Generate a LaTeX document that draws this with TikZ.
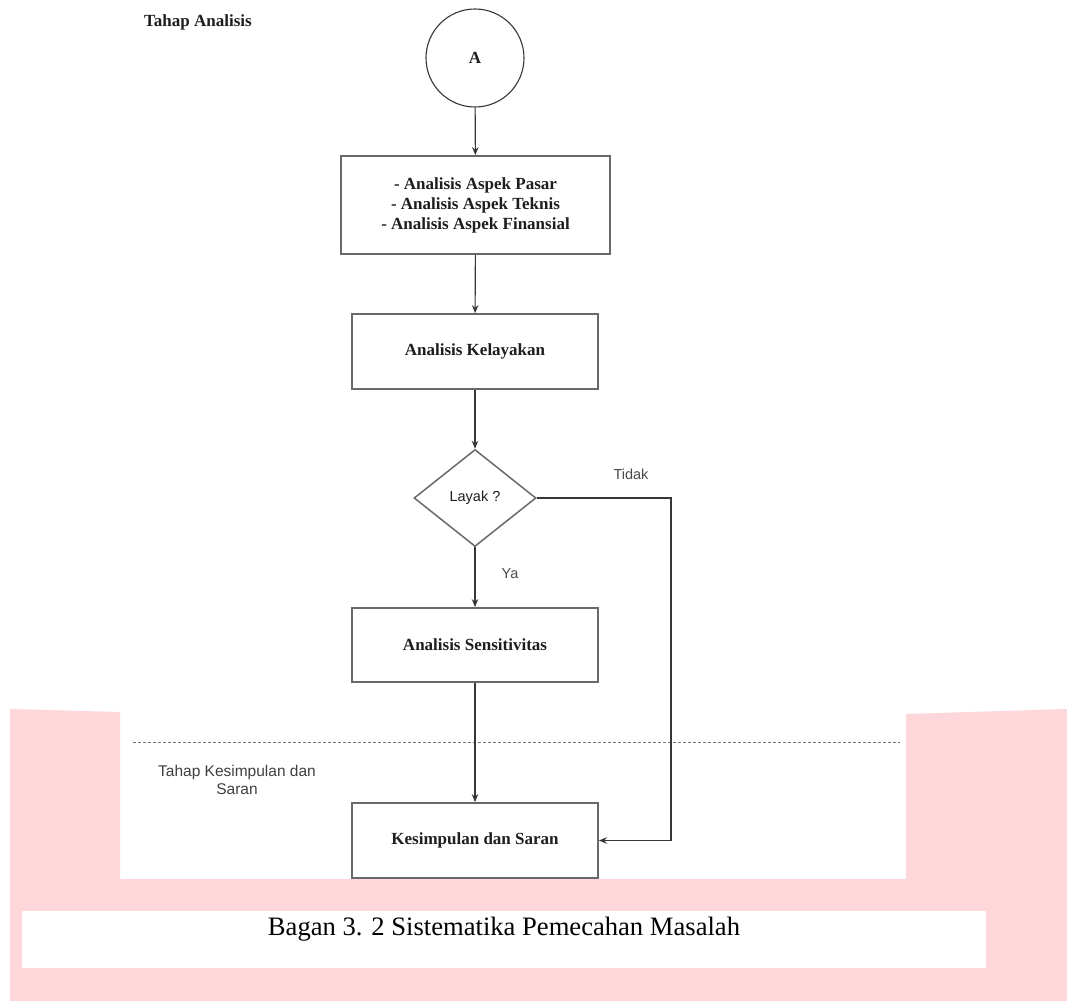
\documentclass[tikz,border=0pt]{standalone}
\usepackage{fontspec}
\setmainfont{Liberation Serif}
\setsansfont{Liberation Sans}
\usetikzlibrary{shapes.geometric,arrows.meta}
\definecolor{pinkbg}{RGB}{254,215,219}
\definecolor{boxline}{RGB}{105,105,105}
\definecolor{conn}{RGB}{55,55,55}
\definecolor{txt}{RGB}{30,30,30}
\begin{document}
\begin{tikzpicture}[x=1pt,y=-1pt,
  procbox/.style={draw=boxline,line width=1.8pt,fill=white,inner sep=0pt,
    minimum width=246pt,minimum height=75pt,align=center,text=txt,
    font=\fontsize{17}{20}\selectfont\bfseries},
  startcirc/.style={circle,draw=conn,line width=1.1pt,fill=white,inner sep=0pt,
    minimum size=98pt,text=txt,font=\fontsize{17}{20}\selectfont\bfseries},
  decision/.style={diamond,draw=boxline,line width=1.5pt,fill=white,inner sep=0pt,
    minimum width=122pt,minimum height=97pt,text=txt,
    font=\sffamily\fontsize{14.5}{17}\selectfont},
  flow/.style={draw=conn,line width=1.1pt,-{Stealth[length=8pt,width=6.5pt]}},
  plain/.style={draw=conn,line width=1.1pt},
  lbl/.style={inner sep=0pt,text=txt!80!white,font=\sffamily\fontsize{14.5}{17}\selectfont},
  stage/.style={inner sep=0pt,text=txt,font=\fontsize{17}{20}\selectfont\bfseries},
  stagesans/.style={inner sep=0pt,text=txt!85!white,align=center,
    font=\sffamily\fontsize{15.5}{18.5}\selectfont},
  caption/.style={inner sep=0pt,text=black,font=\fontsize{26.6}{30}\selectfont}
]
\useasboundingbox (0,0) rectangle (1067,1001);
\fill[white] (0,0) rectangle (1067,1001);
% pink page background
\fill[pinkbg] (10,709) -- (120,712) -- (120,879) -- (906,879) -- (906,714)
  -- (1067,709) -- (1067,1001) -- (10,1001) -- cycle;
\fill[white] (22,911) rectangle (986,968);

% stage labels
\node[stage,anchor=base west] (tahapA) at (144,27) {Tahap Analisis};
\node[stagesans] (tahapK) at (237,780) {Tahap Kesimpulan dan\\Saran};

% separator
\coordinate (sepL) at (133,742);
\coordinate (sepR) at (900,742);
\draw[draw=black!55,line width=1pt,dash pattern=on 3pt off 2pt] (sepL) -- (sepR);

% nodes
\node[startcirc] (A) at (475,58) {A};
\node[procbox,minimum width=269pt,minimum height=98pt] (b1) at (475.5,205)
  {- Analisis Aspek Pasar\\- Analisis Aspek Teknis\\- Analisis Aspek Finansial};
\node[procbox] (b2) at (475,351.5) {Analisis Kelayakan};
\node[decision] (d) at (475,498) {Layak ?};
\node[procbox,minimum height=74pt] (b3) at (475,645) {Analisis Sensitivitas};
\node[procbox] (b4) at (475,840.5) {Kesimpulan dan Saran};

% connectors
\draw[flow] (A) -- (b1);
\draw[flow] (b1) -- (b2);
\draw[flow] (b2) -- (d);
\draw[flow] (d) -- (b3);
\draw[flow] (b3) -- (b4);
\coordinate (turn) at (671,498);
\draw[flow] (d.east) -- (turn) |- (b4.east);

% edge labels
\node[lbl] (tidak) at (631,474) {Tidak};
\node[lbl] (ya) at (510,574) {Ya};

% caption
\node[caption,anchor=base] (cap) at (504,935) {Bagan 3. 2 Sistematika Pemecahan Masalah};
\end{tikzpicture}
\end{document}
